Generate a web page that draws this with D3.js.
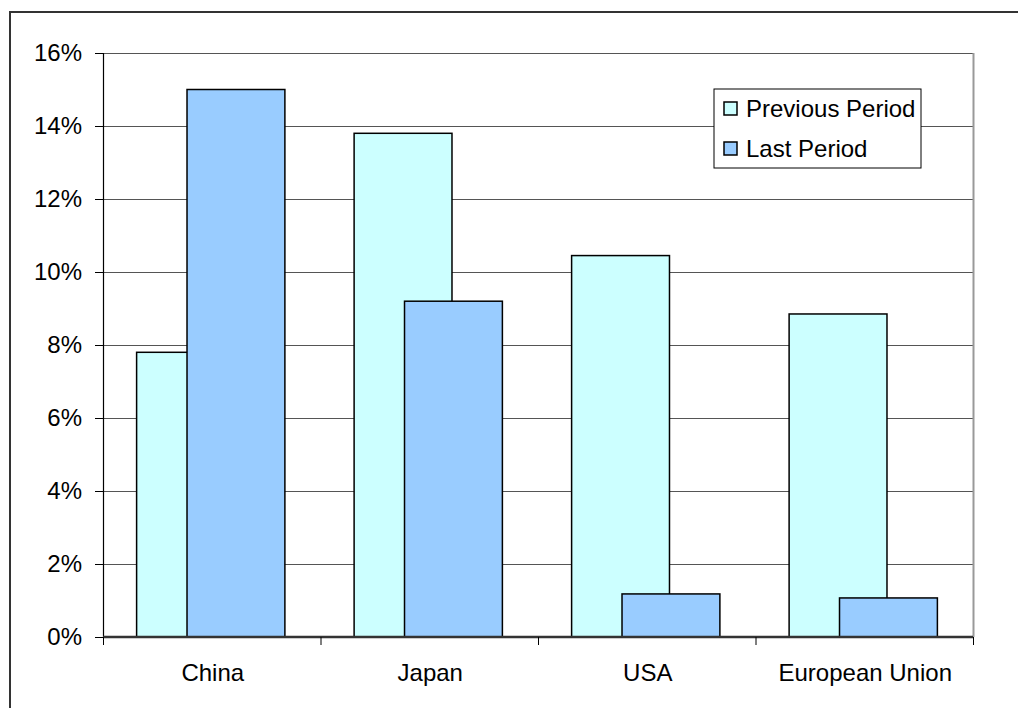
<!DOCTYPE html>
<html>
<head>
<meta charset="utf-8">
<script src="https://cdn.jsdelivr.net/npm/d3@7"></script>
<style>
  html, body { margin: 0; padding: 0; background: #fff; }
  svg { display: block; font-family: Arial, "Liberation Sans", sans-serif; }
</style>
</head>
<body>
<svg id="chart" width="1018" height="708"></svg>
<script>
// Growth by region, two periods (percent)
const categories = ["China", "Japan", "USA", "European Union"];
const seriesNames = ["Previous Period", "Last Period"];
const previousPeriod = [7.8, 13.8, 10.45, 8.85];
const lastPeriod = [15.0, 9.2, 1.18, 1.07];
const yTicks = [0, 2, 4, 6, 8, 10, 12, 14, 16];
const colors = ["#ccffff", "#99ccff"];

const svg = d3.select("#chart");
const margin = { left: 103, top: 53, right: 1018 - 973, bottom: 708 - 637 };
const width = 1018 - margin.left - margin.right;
const height = 708 - margin.top - margin.bottom;

// Outer chart frame (runs past the visible edges)
svg.append("rect")
  .attr("x", 10).attr("y", 12)
  .attr("width", 1040).attr("height", 740)
  .attr("fill", "none").attr("stroke", "#333").attr("stroke-width", 2);

const g = svg.append("g").attr("transform", `translate(${margin.left},${margin.top})`);

const x = d3.scaleBand().domain(categories).range([0, width]).paddingInner(0).paddingOuter(0);
const y = d3.scaleLinear().domain([0, 16]).range([height, 0]);

// Horizontal gridlines
g.append("g").selectAll("line").data(yTicks.filter(t => t > 0)).join("line")
  .attr("x1", 0).attr("x2", width)
  .attr("y1", d => y(d) + 0.5).attr("y2", d => y(d) + 0.5)
  .attr("stroke", "#555").attr("stroke-width", 1);

// Right plot border
g.append("line")
  .attr("x1", width + 0.5).attr("x2", width + 0.5)
  .attr("y1", 0).attr("y2", height)
  .attr("stroke", "#999").attr("stroke-width", 2);

// Bars: each bar is ~45% of the band, second series offset by half a bar
const barW = x.bandwidth() * 0.45;
const offset = barW * 0.515;
const groupW = barW + offset;
const series = [previousPeriod, lastPeriod];

series.forEach((vals, si) => {
  g.append("g").selectAll("rect").data(categories).join("rect")
    .attr("x", (c) => x(c) + (x.bandwidth() - groupW) / 2 - 1 + si * offset)
    .attr("y", (c, i) => y(vals[i]))
    .attr("width", barW)
    .attr("height", (c, i) => height - y(vals[i]))
    .attr("fill", colors[si])
    .attr("stroke", "#000").attr("stroke-width", 1.5);
});

// Y axis
const yAxis = d3.axisLeft(y).tickValues(yTicks).tickFormat(d => d + "%").tickSize(8).tickPadding(13);
const ya = g.append("g").call(yAxis);
ya.select(".domain").attr("stroke", "#000").attr("stroke-width", 1.2).attr("d", `M0.5,0V${height}`);
ya.selectAll(".tick line").attr("stroke", "#000");
ya.selectAll(".tick text").attr("font-size", 24).attr("fill", "#000");

// X axis: ticks at category boundaries, labels centred in bands
const xa = g.append("g").attr("transform", `translate(0,${height})`);
xa.append("line").attr("x1", 0).attr("x2", width).attr("y1", 0).attr("y2", 0)
  .attr("stroke", "#333").attr("stroke-width", 2.5);
const bounds = categories.map(c => x(c)).concat([width]);
xa.selectAll("line.tk").data(bounds).join("line").attr("class", "tk")
  .attr("x1", d => d + 0.5).attr("x2", d => d + 0.5).attr("y1", 0).attr("y2", 8)
  .attr("stroke", "#000");
xa.selectAll("text").data(categories).join("text")
  .attr("x", c => x(c) + x.bandwidth() / 2 + 1)
  .attr("y", 44)
  .attr("text-anchor", "middle")
  .attr("font-size", 24).attr("fill", "#000")
  .text(c => c);

// Legend
const lg = svg.append("g").attr("transform", "translate(714,89)");
lg.append("rect").attr("x", 0).attr("y", 0).attr("width", 207).attr("height", 79)
  .attr("fill", "#fff").attr("stroke", "#000").attr("stroke-width", 1);
seriesNames.forEach((name, i) => {
  const cy = 19 + i * 40;
  lg.append("rect").attr("x", 10).attr("y", cy - 6).attr("width", 13).attr("height", 13)
    .attr("fill", colors[i]).attr("stroke", "#000").attr("stroke-width", 1.5);
  lg.append("text").attr("x", 32).attr("y", cy + 9).attr("font-size", 24)
    .attr("fill", "#000").text(name);
});
</script>
</body>
</html>
